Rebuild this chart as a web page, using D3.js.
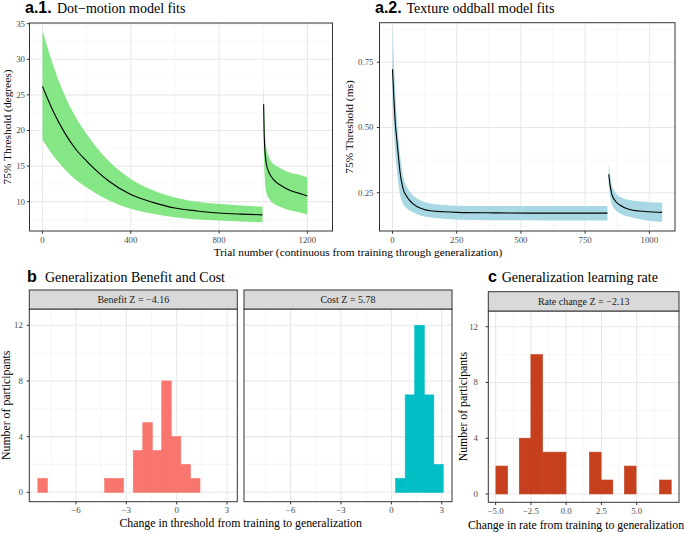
<!DOCTYPE html>
<html><head><meta charset="utf-8">
<script src="https://cdn.jsdelivr.net/npm/d3@7"></script>
<style>
html,body{margin:0;padding:0;background:#fff;}
svg{display:block;}
text{font-family:"Liberation Serif","Times New Roman",serif;}
.bold{font-family:"Liberation Sans",Arial,sans-serif;font-weight:bold;}
</style></head>
<body>
<script>
// ---------- Data ----------
// a.1 Dot-motion: training phase
const dmTrainTrial = [0, 50, 100, 150, 200, 300, 400, 500, 600, 700, 800, 900, 997];
const dmTrainFit   = [26.2, 22.6, 19.7, 17.4, 15.7, 12.9, 11.0, 9.9, 9.1, 8.7, 8.4, 8.25, 8.15];
const dmTrainLo    = [18.7, 16.4, 14.6, 13.1, 12.0, 10.2, 9.0, 8.3, 7.8, 7.5, 7.35, 7.2, 7.1];
const dmTrainHi    = [34.0, 29.0, 25.0, 21.9, 19.5, 15.7, 13.2, 11.6, 10.6, 10.0, 9.7, 9.45, 9.3];
// a.1 Dot-motion: generalization phase
const dmGenTrial = [1002, 1004, 1007, 1014, 1025, 1037, 1060, 1090, 1120, 1160, 1200];
const dmGenFit   = [23.7, 20.0, 17.5, 15.4, 14.2, 13.5, 12.7, 12.1, 11.6, 11.2, 10.8];
const dmGenLo    = [20.5, 16.0, 13.5, 11.3, 10.5, 10.0, 9.5, 9.1, 8.8, 8.5, 8.2];
const dmGenHi    = [27.5, 23.5, 20.5, 17.7, 16.3, 15.6, 15.0, 14.5, 14.1, 13.8, 13.4];
// a.2 Texture oddball: training phase
const toTrainTrial = [0, 5, 10, 17, 25, 30, 40, 56, 75, 95, 120, 147, 200, 250, 400, 600, 837];
const toTrainFit   = [0.723, 0.62, 0.53, 0.451, 0.37, 0.324, 0.27, 0.235, 0.212, 0.197, 0.187, 0.181, 0.177, 0.175, 0.173, 0.172, 0.172];
const toTrainLo    = [0.60, 0.50, 0.42, 0.34, 0.27, 0.24, 0.21, 0.19, 0.178, 0.168, 0.160, 0.155, 0.150, 0.147, 0.145, 0.144, 0.144];
const toTrainHi    = [0.89, 0.76, 0.65, 0.54, 0.44, 0.39, 0.32, 0.273, 0.245, 0.228, 0.216, 0.209, 0.203, 0.200, 0.199, 0.199, 0.199];
// a.2 Texture oddball: generalization phase
const toGenTrial = [842, 847, 853, 865, 885, 924, 960, 1000, 1050];
const toGenFit   = [0.321, 0.28, 0.248, 0.222, 0.203, 0.186, 0.180, 0.177, 0.175];
const toGenLo    = [0.28, 0.24, 0.21, 0.188, 0.171, 0.158, 0.149, 0.143, 0.138];
const toGenHi    = [0.365, 0.32, 0.285, 0.255, 0.235, 0.222, 0.217, 0.214, 0.212];
// b histograms (bin start, count), shared bin width
const bBinWidth = 0.568;
const benefitBinStart = [-8.27, -4.29, -3.73, -2.59, -2.02, -1.45, -0.89, -0.32, 0.25, 0.82];
const benefitCount    = [1, 1, 1, 3, 5, 3, 8, 4, 2, 1];
const costBinStart    = [0.25, 0.82, 1.39, 1.96, 2.52];
const costCount       = [1, 7, 12, 7, 2];
// c histogram
const cBinWidth = 0.828;
const rateBinStart = [-4.98, -3.32, -2.50, -1.67, -0.84, 1.65, 2.48, 4.13, 6.62];
const rateCount    = [2, 4, 10, 3, 3, 3, 1, 2, 1];
// ticks
const dmXTicks = [0, 400, 800, 1200], dmXMinor = [200, 600, 1000];
const dmYTicks = [10, 15, 20, 25, 30, 35], dmYMinor = [7.5, 12.5, 17.5, 22.5, 27.5, 32.5];
const toXTicks = [0, 250, 500, 750, 1000], toXMinor = [125, 375, 625, 875];
const toYTicks = [0.25, 0.50, 0.75], toYMinor = [0.125, 0.375, 0.625, 0.875];
const bXTicks = [-6, -3, 0, 3], bXMinor = [-7.5, -4.5, -1.5, 1.5];
const histYTicks = [0, 4, 8, 12], histYMinor = [2, 6, 10];
const cXTicks = [-5, -2.5, 0, 2.5, 5], cXMinor = [-3.75, -1.25, 1.25, 3.75, 6.25];

// ---------- Drawing ----------
const W = 685, H = 533;
const svg = d3.select("body").append("svg").attr("width", W).attr("height", H);
const TICKCOL = "#4d4d4d", TICKFS = 8.8;

function panel(cfg) {
  const { x, y, xTicks, xMinor, yTicks, yMinor, xFmt, yFmt, id, yLabEnd, xLabBase, showY } = cfg;
  const [x0, x1] = x.range(), [y1, y0] = y.range();
  const g = svg.append("g");
  g.append("rect").attr("x", x0).attr("y", y0).attr("width", x1 - x0).attr("height", y1 - y0).attr("fill", "#fff");
  const grid = g.append("g");
  xMinor.forEach(v => grid.append("line").attr("x1", x(v)).attr("x2", x(v)).attr("y1", y0).attr("y2", y1).attr("stroke", "#f2f2f2").attr("stroke-width", 0.6));
  yMinor.forEach(v => grid.append("line").attr("y1", y(v)).attr("y2", y(v)).attr("x1", x0).attr("x2", x1).attr("stroke", "#f2f2f2").attr("stroke-width", 0.6));
  xTicks.forEach(v => grid.append("line").attr("x1", x(v)).attr("x2", x(v)).attr("y1", y0).attr("y2", y1).attr("stroke", "#e8e8e8").attr("stroke-width", 1.1));
  yTicks.forEach(v => grid.append("line").attr("y1", y(v)).attr("y2", y(v)).attr("x1", x0).attr("x2", x1).attr("stroke", "#e8e8e8").attr("stroke-width", 1.1));
  svg.append("clipPath").attr("id", id).append("rect").attr("x", x0).attr("y", y0).attr("width", x1 - x0).attr("height", y1 - y0);
  const content = g.append("g").attr("clip-path", `url(#${id})`);
  const ax = g.append("g");
  xTicks.forEach(v => {
    ax.append("line").attr("x1", x(v)).attr("x2", x(v)).attr("y1", y1).attr("y2", y1 + 2.7).attr("stroke", "#333").attr("stroke-width", 1);
    ax.append("text").attr("x", x(v)).attr("y", xLabBase).attr("text-anchor", "middle").attr("font-size", TICKFS).attr("fill", TICKCOL).text(xFmt(v));
  });
  if (showY !== false) yTicks.forEach(v => {
    ax.append("line").attr("y1", y(v)).attr("y2", y(v)).attr("x1", x0 - 2.7).attr("x2", x0).attr("stroke", "#333").attr("stroke-width", 1);
    ax.append("text").attr("x", yLabEnd).attr("y", y(v)).attr("dy", "0.33em").attr("text-anchor", "end").attr("font-size", TICKFS).attr("fill", TICKCOL).text(yFmt(v));
  });
  return { g, content, border: () => g.append("rect").attr("x", x0).attr("y", y0).attr("width", x1 - x0).attr("height", y1 - y0).attr("fill", "none").attr("stroke", "#333").attr("stroke-width", 1) };
}

function ribbon(p, x, y, tr, lo, hi, fit, fill) {
  const pts = tr.map((t, i) => ({ t, lo: lo[i], hi: hi[i], f: fit[i] }));
  const area = d3.area().x(d => x(d.t)).y0(d => y(d.lo)).y1(d => y(d.hi)).curve(d3.curveMonotoneX);
  const line = d3.line().x(d => x(d.t)).y(d => y(d.f)).curve(d3.curveMonotoneX);
  p.content.append("path").attr("d", area(pts)).attr("fill", fill);
  p.content.append("path").attr("d", line(pts)).attr("fill", "none").attr("stroke", "#000").attr("stroke-width", 1.1);
}

function hist(p, x, y, starts, counts, w, fill) {
  p.content.selectAll(null).data(starts.map((s, i) => ({ s, n: counts[i] }))).enter().append("rect")
    .attr("x", d => x(d.s)).attr("width", d => x(d.s + w) - x(d.s))
    .attr("y", d => y(d.n)).attr("height", d => y(0) - y(d.n))
    .attr("fill", fill).attr("stroke", fill).attr("stroke-width", 0.6);
}

function strip(x0, x1, y0, y1, label) {
  svg.append("rect").attr("x", x0).attr("y", y0).attr("width", x1 - x0).attr("height", y1 - y0).attr("fill", "#d9d9d9").attr("stroke", "#333").attr("stroke-width", 1);
  svg.append("text").attr("x", (x0 + x1) / 2).attr("y", (y0 + y1) / 2).attr("dy", "0.33em").attr("text-anchor", "middle").attr("font-size", 10).attr("fill", "#1a1a1a").text(label);
}

function title(xb, xt, yb, tag, txt, tagSize) {
  svg.append("text").attr("class", "bold").attr("x", xb).attr("y", yb).attr("font-size", tagSize).attr("fill", "#000").text(tag);
  svg.append("text").attr("x", xt).attr("y", yb).attr("font-size", 14).attr("fill", "#000").text(txt);
}
function yTitle(xBase, yc, txt, fs) {
  svg.append("text").attr("transform", `translate(${xBase},${yc}) rotate(-90)`).attr("text-anchor", "middle").attr("font-size", fs).attr("fill", "#000").text(txt);
}
const minus = s => s.replace("-", "\u2212");

// ----- a.1 -----
const x1s = d3.scaleLinear().domain([-58.9, 1314]).range([29.5, 332.5]);
const y1s = d3.scaleLinear().domain([5.88, 35.1]).range([231, 23]);
const pA1 = panel({ x: x1s, y: y1s, xTicks: dmXTicks, xMinor: dmXMinor, yTicks: dmYTicks, yMinor: dmYMinor,
  xFmt: d3.format("d"), yFmt: d3.format("d"), id: "cA1", yLabEnd: 25, xLabBase: 243.3 });
ribbon(pA1, x1s, y1s, dmTrainTrial, dmTrainLo, dmTrainHi, dmTrainFit, "#84e684");
ribbon(pA1, x1s, y1s, dmGenTrial, dmGenLo, dmGenHi, dmGenFit, "#84e684");
pA1.border();

// ----- a.2 -----
const x2s = d3.scaleLinear().domain([-50.6, 1100]).range([379.5, 675]);
const y2s = d3.scaleLinear().domain([0.1035, 0.9015]).range([231, 22.7]);
const pA2 = panel({ x: x2s, y: y2s, xTicks: toXTicks, xMinor: toXMinor, yTicks: toYTicks, yMinor: toYMinor,
  xFmt: d3.format("d"), yFmt: d3.format(".2f"), id: "cA2", yLabEnd: 373.5, xLabBase: 243.3 });
ribbon(pA2, x2s, y2s, toTrainTrial, toTrainLo, toTrainHi, toTrainFit, "#a8d8e3");
ribbon(pA2, x2s, y2s, toGenTrial, toGenLo, toGenHi, toGenFit, "#a8d8e3");
pA2.border();

title(25, 57, 12.7, "a.1.", "Dot\u2212motion model fits", 16);
title(375, 406.5, 12.7, "a.2.", "Texture oddball model fits", 16);
yTitle(10.5, 127, "75% Threshold (degrees)", 11.4);
yTitle(352.5, 127, "75% Threshold (ms)", 11.4);
svg.append("text").attr("x", 358).attr("y", 256).attr("text-anchor", "middle").attr("font-size", 11.4).text("Trial number (continuous from training through generalization)");

// ----- b -----
const yb = d3.scaleLinear().domain([-0.675, 13.17]).range([501.7, 309]);
const xb1 = d3.scaleLinear().domain([-8.78, 3.61]).range([29.3, 237.3]);
const xb2 = d3.scaleLinear().domain([-8.78, 3.61]).range([244, 452]);
const fmtB = v => minus(d3.format("d")(v));
const pB1 = panel({ x: xb1, y: yb, xTicks: bXTicks, xMinor: bXMinor, yTicks: histYTicks, yMinor: histYMinor,
  xFmt: fmtB, yFmt: d3.format("d"), id: "cB1", yLabEnd: 22.8, xLabBase: 513 });
hist(pB1, xb1, yb, benefitBinStart, benefitCount, bBinWidth, "#f8766d");
pB1.border();
const pB2 = panel({ x: xb2, y: yb, xTicks: bXTicks, xMinor: bXMinor, yTicks: histYTicks, yMinor: histYMinor,
  xFmt: fmtB, yFmt: d3.format("d"), id: "cB2", yLabEnd: 0, xLabBase: 513, showY: false });
hist(pB2, xb2, yb, costBinStart, costCount, bBinWidth, "#00bfc4");
pB2.border();
strip(29.3, 237.3, 290, 309, "Benefit Z = \u22124.16");
strip(244, 452, 290, 309, "Cost Z = 5.78");
title(27, 45, 281.7, "b", "Generalization Benefit and Cost", 16);
yTitle(9.5, 405.3, "Number of participants", 11.8);
svg.append("text").attr("x", 240.7).attr("y", 527).attr("text-anchor", "middle").attr("font-size", 11.8).text("Change in threshold from training to generalization");

// ----- c -----
const xc = d3.scaleLinear().domain([-5.52, 8.0]).range([488.3, 679]);
const yc = d3.scaleLinear().domain([-0.6, 13.13]).range([502.3, 311]);
const fmtC = v => minus(d3.format(".1f")(v));
const pC = panel({ x: xc, y: yc, xTicks: cXTicks, xMinor: cXMinor, yTicks: histYTicks, yMinor: histYMinor,
  xFmt: fmtC, yFmt: d3.format("d"), id: "cC", yLabEnd: 478, xLabBase: 514.3 });
hist(pC, xc, yc, rateBinStart, rateCount, cBinWidth, "#c6401e");
pC.border();
strip(488.3, 679, 291.7, 311, "Rate change Z = \u22122.13");
title(488, 501.7, 282.3, "c", "Generalization learning rate", 16);
yTitle(467, 406.6, "Number of participants", 11.8);
svg.append("text").attr("x", 576).attr("y", 529).attr("text-anchor", "middle").attr("font-size", 11.8).text("Change in rate from training to generalization");
</script>
</body></html>
